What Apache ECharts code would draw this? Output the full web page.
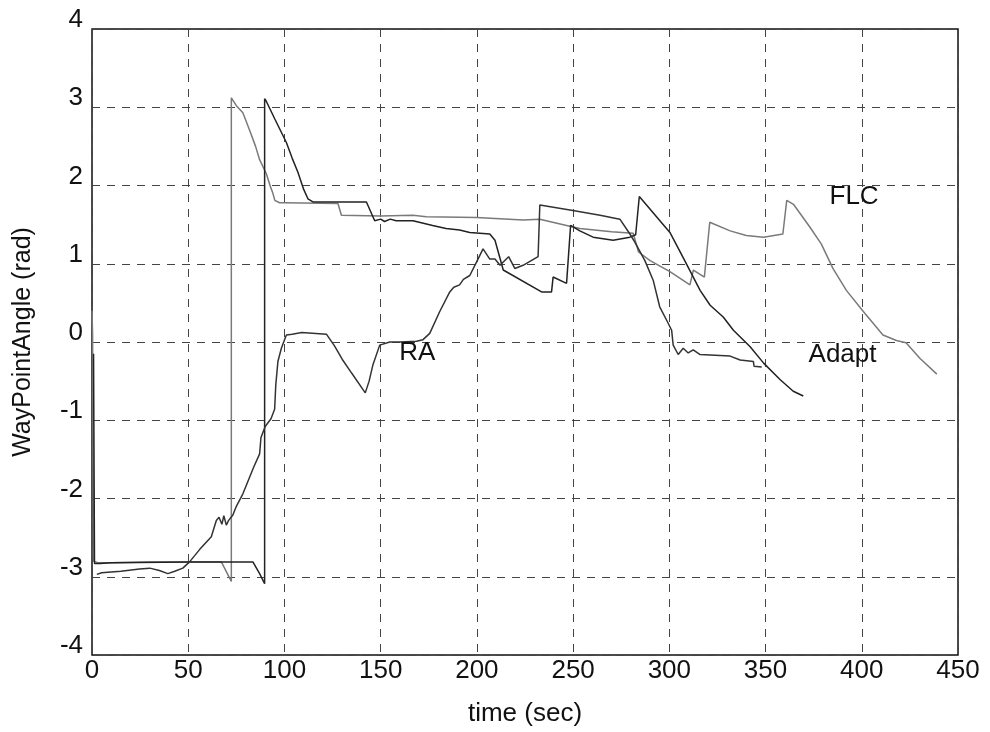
<!DOCTYPE html>
<html>
<head>
<meta charset="utf-8">
<title>WayPointAngle</title>
<script src="https://cdn.jsdelivr.net/npm/echarts@6/dist/echarts.min.js"></script>
<style>
  html, body { margin: 0; padding: 0; background: #fff; }
  #chart { width: 990px; height: 732px; }
</style>
</head>
<body>
<div id="chart"></div>
<script>
// axis ticks
const xTicks = [0, 50, 100, 150, 200, 250, 300, 350, 400, 450];
const yTicks = [-4, -3, -2, -1, 0, 1, 2, 3, 4];

// FLC run (time sec, angle rad)
const flcData = [
  [0, 0.4], [0.3, 0.1], [0.8, -2.8], [3, -2.82], [10, -2.82], [30, -2.81], [50, -2.81],
  [67.2, -2.81], [72.4, -3.06], [72.4, 3.12], [75, 3.02], [78.4, 2.93], [82, 2.7],
  [85, 2.5], [87.1, 2.33], [90.6, 2.15], [92.5, 2.0], [94, 1.9], [95, 1.81], [97.5, 1.78],
  [100, 1.78], [127.8, 1.77], [129.6, 1.62], [150, 1.61], [166.8, 1.62], [173.7, 1.6],
  [199.8, 1.59], [224, 1.56], [232.7, 1.57], [246.6, 1.49], [253.5, 1.45], [270, 1.41],
  [281.2, 1.39], [284, 1.15], [290, 1.04], [300.3, 0.9], [310.7, 0.73], [312.5, 0.92],
  [318.2, 0.83], [321, 1.53], [331.6, 1.42], [340, 1.36], [349, 1.34], [359, 1.38],
  [361, 1.81], [364.5, 1.76], [373, 1.47], [379, 1.25], [385, 0.94], [392, 0.66],
  [400.8, 0.39], [411, 0.09], [418, 0.02], [423, -0.01], [430.3, -0.21], [439, -0.41]
];

// Adapt run
const adaptData = [
  [0.8, -0.15], [1.3, -2.83], [4, -2.83], [10, -2.82], [50, -2.81], [83.6, -2.81],
  [87.1, -2.96], [89.7, -3.09], [89.7, 3.11], [90.5, 3.08], [95, 2.85], [98, 2.7],
  [101, 2.55], [104, 2.35], [107, 2.17], [110, 1.95], [112.2, 1.83], [114.8, 1.79],
  [142.6, 1.79], [146.9, 1.55], [150, 1.57], [152, 1.54], [155, 1.57], [158, 1.55],
  [166.8, 1.55], [177, 1.49], [184, 1.45], [191, 1.43], [196.3, 1.4], [206.7, 1.38],
  [209.4, 1.3], [213.7, 0.92], [233.6, 0.64], [238.8, 0.64], [239.6, 0.83], [246.6, 0.75],
  [248.7, 1.49], [253.5, 1.42], [260.4, 1.34], [270.8, 1.3], [279.5, 1.34], [282.5, 1.37],
  [284.4, 1.86], [300.3, 1.4], [308, 1.04], [316, 0.66], [321.2, 0.47], [328, 0.32],
  [333.3, 0.15], [342, -0.06], [349, -0.27], [357.5, -0.48], [364.4, -0.63], [369.6, -0.69]
];

// RA run
const raData = [
  [2.5, -2.97], [5, -2.95], [15, -2.93], [24.7, -2.9], [30, -2.89], [35, -2.92],
  [39.4, -2.96], [43, -2.93], [47.2, -2.89], [50.7, -2.81], [56, -2.65], [62, -2.49],
  [64.6, -2.28], [66, -2.24], [67.5, -2.33], [68.5, -2.22], [69.8, -2.34], [71, -2.28],
  [73.2, -2.21], [75, -2.1], [78.4, -1.94], [84, -1.6], [87.1, -1.43], [87.8, -1.22],
  [90, -1.08], [93, -0.98], [94.9, -0.86], [95.5, -0.55], [96.6, -0.25], [98.4, -0.08],
  [101, 0.09], [104, 0.1], [109, 0.12], [121.8, 0.1], [126, -0.05], [130, -0.22],
  [135, -0.4], [142, -0.65], [144, -0.5], [146, -0.29], [149.5, -0.04], [154.7, 0.0],
  [160, 0.0], [168.6, 0.01], [172, 0.03], [175.5, 0.11], [180.7, 0.39], [185.9, 0.64],
  [188, 0.7], [191, 0.73], [193, 0.8], [196.3, 0.85], [199.8, 1.02], [203.2, 1.19],
  [206.7, 1.06], [209.4, 1.06], [212, 0.98], [216.5, 1.09], [219.7, 0.94], [224, 0.98],
  [231.8, 1.09], [232.7, 1.75], [249.9, 1.68], [264, 1.62], [274.3, 1.57], [279.5, 1.38],
  [282, 1.28], [287.3, 1.04], [291.6, 0.79], [295, 0.45], [299.4, 0.24], [301.2, 0.15],
  [302, -0.04], [304.6, -0.16], [307.2, -0.08], [309.8, -0.14], [312.4, -0.1], [316, -0.16],
  [331.6, -0.18], [336.8, -0.23], [343.7, -0.25], [344, -0.31], [348, -0.32]
];

// text labels placed on the plot
const curveLabels = [
  { name: "FLC", coord: [396, 1.85] },
  { name: "Adapt", coord: [390, -0.17] },
  { name: "RA", coord: [169, -0.14] }
];

const fontFam = "'Liberation Sans', Arial, sans-serif";

const gridLine = {
  show: true,
  lineStyle: { color: "#444", width: 1, type: [8, 7] }
};

const labelMarks = {
  symbol: "circle",
  symbolSize: 1,
  itemStyle: { color: "transparent" },
  label: {
    show: true,
    position: "inside",
    formatter: (p) => p.name,
    color: "#111",
    fontSize: 26,
    fontFamily: fontFam
  },
  data: curveLabels.map((l) => ({ name: l.name, coord: l.coord }))
};

const option = {
  animation: false,
  backgroundColor: "#fff",
  grid: {
    left: 92,
    right: 32,
    top: 29,
    bottom: 75,
    show: true,
    borderColor: "#111",
    borderWidth: 1.5,
    backgroundColor: "transparent"
  },
  xAxis: {
    type: "value",
    min: xTicks[0],
    max: xTicks[xTicks.length - 1],
    interval: 50,
    name: "time (sec)",
    nameLocation: "middle",
    nameGap: 46,
    nameTextStyle: { fontSize: 26, color: "#111", fontFamily: fontFam },
    axisLine: { show: false },
    axisTick: { show: false },
    axisLabel: { fontSize: 26, color: "#111", fontFamily: fontFam, margin: 3, showMinLabel: true, showMaxLabel: true },
    splitLine: gridLine
  },
  yAxis: {
    type: "value",
    min: yTicks[0],
    max: yTicks[yTicks.length - 1],
    interval: 1,
    name: "WayPointAngle (rad)",
    nameLocation: "middle",
    nameGap: 56,
    nameRotate: 90,
    nameTextStyle: { fontSize: 25, color: "#111", fontFamily: fontFam },
    axisLine: { show: false },
    axisTick: { show: false },
    axisLabel: {
      fontSize: 26, color: "#111", fontFamily: fontFam, margin: 9,
      verticalAlign: "bottom", lineHeight: 18,
      showMinLabel: true, showMaxLabel: true
    },
    splitLine: gridLine
  },
  series: [
    {
      name: "FLC",
      type: "line",
      data: flcData,
      showSymbol: false,
      lineStyle: { color: "#7a7a7a", width: 1.5 },
      markPoint: labelMarks
    },
    {
      name: "Adapt",
      type: "line",
      data: adaptData,
      showSymbol: false,
      lineStyle: { color: "#222", width: 1.5 }
    },
    {
      name: "RA",
      type: "line",
      data: raData,
      showSymbol: false,
      lineStyle: { color: "#333", width: 1.5 }
    }
  ]
};

const chart = echarts.init(document.getElementById("chart"));
chart.setOption(option);
window.addEventListener("resize", () => chart.resize());
</script>
</body>
</html>
